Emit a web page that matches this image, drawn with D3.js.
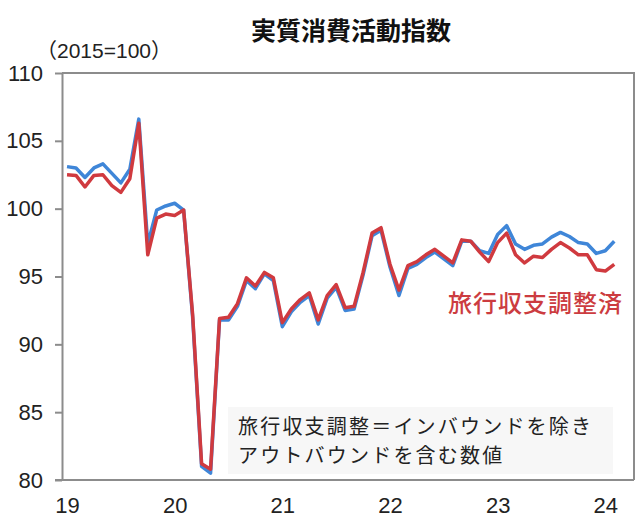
<!DOCTYPE html>
<html>
<head>
<meta charset="utf-8">
<script src="https://cdn.jsdelivr.net/npm/d3@7"></script>
<style>
  body { margin: 0; background: #fff; }
  .axis text { font-family: "Liberation Sans", Arial, sans-serif; font-size: 22px; fill: #222; }
  .axis path, .axis line { stroke: #8c8c8c; stroke-width: 2; }
</style>
</head>
<body>
<div id="chart"></div>
<script>
var yearLabels = ["19", "20", "21", "22", "23", "24"];
var yTicks = [80, 85, 90, 95, 100, 105, 110];

// 実質消費活動指数 (monthly, Jan 2019 - Feb 2024)
var indexValues = [
  103.1, 103.0, 102.3, 103.0, 103.3, 102.6, 101.9, 102.9, 106.6, 97.4, 99.9, 100.2,
  100.4, 99.9, 92.0, 81.0, 80.5, 91.8, 91.8, 92.8, 94.7, 94.1, 95.2, 94.7,
  91.3, 92.4, 93.1, 93.6, 91.5, 93.4, 94.2, 92.5, 92.6, 95.1, 98.0, 98.4,
  95.7, 93.6, 95.6, 95.9, 96.4, 96.8, 96.3, 95.8, 97.6, 97.6, 96.9, 96.7,
  98.1, 98.75, 97.4, 97.0, 97.3, 97.4, 97.9, 98.25, 97.95, 97.5, 97.4, 96.7,
  96.9, 97.6
];

// 旅行収支調整済
var travelAdjusted = [
  102.5, 102.45, 101.6, 102.45, 102.5, 101.7, 101.2, 102.2, 106.3, 96.6, 99.3, 99.6,
  99.5, 99.9, 92.2, 81.2, 80.8, 91.9, 92.0, 93.0, 94.9, 94.3, 95.3, 94.9,
  91.6, 92.6, 93.3, 93.8, 91.8, 93.6, 94.4, 92.7, 92.8, 95.3, 98.2, 98.6,
  95.9, 94.0, 95.8, 96.1, 96.6, 97.0, 96.5, 96.0, 97.7, 97.6, 96.8, 96.1,
  97.5, 98.2, 96.6, 96.0, 96.5, 96.4, 97.0, 97.5, 97.1, 96.6, 96.6, 95.5,
  95.4, 95.9
];

var width = 636, height = 526;
var margin = {top: 73, right: 2, bottom: 46, left: 62};
var graphWidth = width - margin.left - margin.right;
var graphHeight = height - margin.top - margin.bottom;

var svg = d3.select("#chart")
  .append("svg")
  .attr("width", width)
  .attr("height", height);

// title
svg.append("text")
  .attr("x", 351)
  .attr("y", 29)
  .attr("text-anchor", "middle")
  .attr("dominant-baseline", "central")
  .style("font-family", "'Noto Sans CJK JP', sans-serif")
  .style("font-weight", 700)
  .style("font-size", "25px")
  .style("fill", "#111")
  .text("実質消費活動指数");

// unit label
svg.append("text")
  .attr("x", 36)
  .attr("y", 50)
  .attr("dominant-baseline", "central")
  .style("font-family", "'Liberation Sans', 'Noto Sans CJK JP', sans-serif")
  .style("font-size", "21px")
  .style("fill", "#222")
  .text("（2015=100）");

var g = svg.append("g")
  .attr("transform", "translate(" + margin.left + "," + margin.top + ")");

var x = d3.scaleLinear()
  .domain([-0.56, 63.2])
  .range([0, graphWidth]);

var y = d3.scaleLinear()
  .domain([80, 110])
  .range([graphHeight, 0]);

// frame (top + right)
g.append("path")
  .attr("d", "M0,0H" + graphWidth + "V" + graphHeight)
  .attr("fill", "none")
  .attr("stroke", "#8c8c8c")
  .attr("stroke-width", 2);

// y axis
g.append("g")
  .attr("class", "y axis")
  .call(d3.axisLeft(y)
    .tickValues(yTicks)
    .tickSizeInner(7)
    .tickSizeOuter(0)
    .tickPadding(12));

// x axis
g.append("g")
  .attr("class", "x axis")
  .attr("transform", "translate(0," + graphHeight + ")")
  .call(d3.axisBottom(x)
    .tickValues(yearLabels.map(function(d, i) { return i * 12; }))
    .tickFormat(function(d, i) { return yearLabels[i]; })
    .tickSize(0)
    .tickPadding(17));

g.select(".x.axis .domain").attr("d", "M-7,0H" + graphWidth);

// note box
g.append("rect")
  .attr("x", 228 - margin.left)
  .attr("y", 407 - margin.top)
  .attr("width", 385)
  .attr("height", 67)
  .attr("fill", "#f7f7f7");

var line = d3.line()
  .x(function(d, i) { return x(i); })
  .y(function(d) { return y(d); })
  .curve(d3.curveLinear);

g.append("path")
  .datum(indexValues)
  .attr("fill", "none")
  .attr("stroke", "#3f86d8")
  .attr("stroke-width", 3.5)
  .attr("stroke-linejoin", "round")
  .attr("d", line);

g.append("path")
  .datum(travelAdjusted)
  .attr("fill", "none")
  .attr("stroke", "#d03a3f")
  .attr("stroke-width", 3.5)
  .attr("stroke-linejoin", "round")
  .attr("d", line);

// series label
svg.append("text")
  .attr("x", 448)
  .attr("y", 301)
  .attr("dominant-baseline", "central")
  .style("font-family", "'Noto Sans CJK JP', sans-serif")
  .style("font-weight", 500)
  .style("font-size", "24px")
  .style("letter-spacing", "1px")
  .style("fill", "#cc3c40")
  .text("旅行収支調整済");

// note
var note = ["旅行収支調整＝インバウンドを除き", "アウトバウンドを含む数値"];
svg.selectAll(".note")
  .data(note)
  .enter()
  .append("text")
  .attr("class", "note")
  .attr("x", 238)
  .attr("y", function(d, i) { return 425 + i * 29; })
  .attr("dominant-baseline", "central")
  .style("font-family", "'Noto Sans CJK JP', sans-serif")
  .style("font-size", "20px")
  .style("letter-spacing", "2.2px")
  .style("fill", "#222")
  .text(function(d) { return d; });
</script>
</body>
</html>
